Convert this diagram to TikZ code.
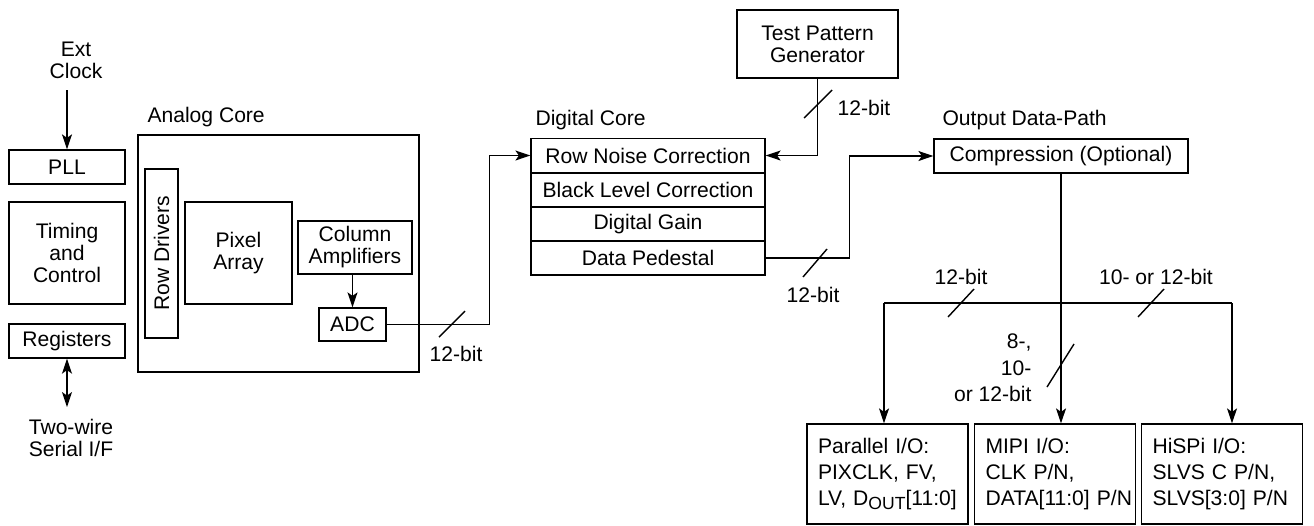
\documentclass[tikz,border=0pt]{standalone}
\usepackage{fontspec}
\setmainfont{Liberation Sans}
\usetikzlibrary{calc,arrows.meta}

\begin{document}
\begin{tikzpicture}[x=0.02cm, y=-0.02cm, line width=0.8pt,
    font=\fontsize{12}{12.5}\selectfont,
    box/.style={draw, rectangle, align=center, inner sep=0pt},
    iobox/.style={draw, rectangle, align=left, inner xsep=0.22cm, inner ysep=0pt,
        minimum height=2cm, text width=2.78cm, font=\fontsize{12}{15}\selectfont},
    arr/.style={-{Stealth[length=8.5pt,width=5.7pt,inset=2pt]}},
    darr/.style={{Stealth[length=8.5pt,width=5.7pt,inset=2pt]}-{Stealth[length=8.5pt,width=5.7pt,inset=2pt]}}]

\useasboundingbox (0,0) rectangle (1314,525);

% Left column: clock, timing and registers
\node[box, minimum width=2.32cm, minimum height=0.68cm] (pll) at (67,167) {PLL};
\node[box, minimum width=2.32cm, minimum height=2.04cm] (timing) at (67,253) {Timing\\and\\Control};
\node[box, minimum width=2.32cm, minimum height=0.68cm] (regs) at (67,341) {Registers};
\node[align=center] (extclk) at (76,60) {Ext\\Clock};
\node[align=center] (twowire) at (71,438) {Two-wire\\Serial I/F};
\coordinate (clk) at (67,90);
\coordinate (ser) at (67,407);
\draw[arr] (clk) -- (pll.north);
\draw[darr] (regs.south) -- (ser);

% Analog core
\node[anchor=west] (analoglbl) at (141,117) {Analog Core};
\node[box, minimum width=5.62cm, minimum height=4.74cm] (analog) at (278.5,253.5) {};
\node[box, rotate=90, minimum width=3.38cm, minimum height=0.66cm] (rowdrv) at (161.5,253.5) {Row Drivers};
\node[box, minimum width=2.14cm, minimum height=2.04cm] (pixel) at (238.5,253) {Pixel\\Array};
\node[box, minimum width=2.28cm, minimum height=1.06cm] (colamp) at (355,247.5) {Column\\Amplifiers};
\node[box, minimum width=1.34cm, minimum height=0.66cm] (adc) at (352.5,324.5) {ADC};
\draw[arr] (adc.north |- colamp.south) -- (adc.north);

% Digital core
\node[anchor=west] (digitallbl) at (529,120) {Digital Core};
\node[box, minimum width=4.68cm, minimum height=0.68cm] (rnc) at (648,155.5) {Row Noise Correction};
\node[box, minimum width=4.68cm, minimum height=0.68cm] (blc) at (648,190) {Black Level Correction};
\node[box, minimum width=4.68cm, minimum height=0.68cm] (dgain) at (648,224) {Digital Gain};
\node[box, minimum width=4.68cm, minimum height=0.68cm] (dped) at (648,258) {Data Pedestal};

% Test pattern generator
\node[box, minimum width=3.22cm, minimum height=1.36cm] (tpg) at (817.5,44) {Test Pattern\\Generator};

% Output data-path
\node[anchor=west] (outlbl) at (936,120) {Output Data-Path};
\node[box, minimum width=5.08cm, minimum height=0.68cm] (comp) at (1061,156) {Compression (Optional)};
\node[iobox] (pio) at (887.5,474) {Parallel I/O:\\PIXCLK, FV,\\LV, D\raisebox{-0.35ex}{\fontsize{10}{10}\selectfont OUT}[11:0]};
\node[iobox] (mio) at (1055,474) {MIPI I/O:\\CLK P/N,\\DATA[11:0]~P/N};
\node[iobox] (hio) at (1222,474) {HiSPi I/O:\\SLVS C P/N,\\SLVS[3:0]~P/N};

% Connections
\draw[arr] (adc.east) -| ($(rnc.west)+(-41,0)$) -- (rnc.west);
\draw[arr] (tpg.south) |- (rnc.east);
\draw[arr] (dped.east) -| ($(comp.west)+(-84,0)$) -- (comp.west);
\draw[arr] (comp.south) -- (comp.south |- mio.north);
\coordinate (busL) at (884,303);
\coordinate (busR) at (1232,303);
\draw (busL) -- (busR);
\draw[arr] (busL) -- (busL |- pio.north);
\draw[arr] (busR) -- (busR |- hio.north);

% Bus width marks
\draw (452,324) ++(-13,13) -- ++(26,-26);
\draw (818,104) ++(-14,14) -- ++(28,-28);
\draw (815,263) ++(-12,14) -- ++(24,-28);
\draw (961,303) ++(-13,14) -- ++(26,-28);
\draw (1151,303) ++(-13,14) -- ++(26,-28);
\draw (1060,366) ++(-13,21) -- ++(27,-43);

% Bus width labels
\node (w1) at (456,354) {12-bit};
\node[anchor=west] (w2) at (831,108) {12-bit};
\node (w3) at (813,295) {12-bit};
\node (w4) at (961,277) {12-bit};
\node (w5) at (1156,277) {10- or 12-bit};
\node[align=right, anchor=east, font=\fontsize{12}{15}\selectfont] (w6) at (1038,368) {8-,\\10-\\or 12-bit};

\end{tikzpicture}
\end{document}
